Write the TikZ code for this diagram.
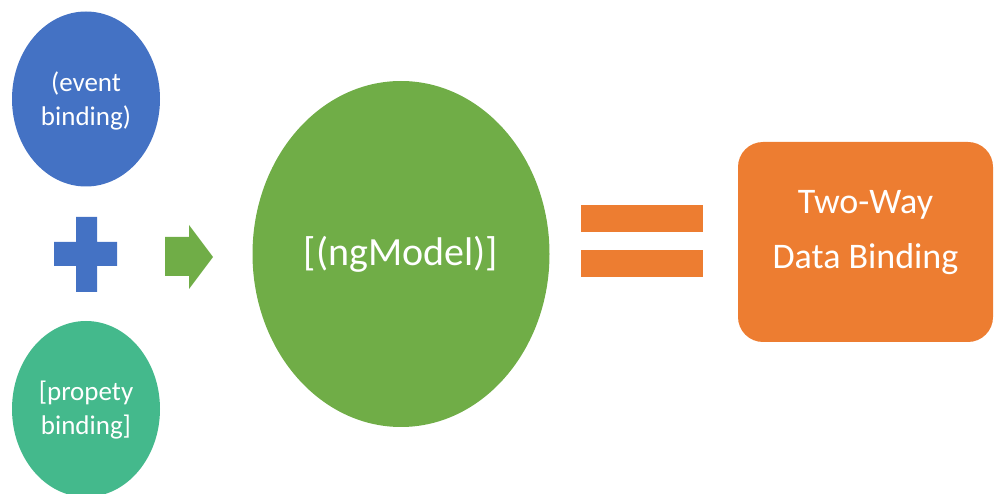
\documentclass[tikz,border=0pt]{standalone}
\usepackage{fontspec}
\setmainfont{Carlito}
\usetikzlibrary{shapes.geometric}
\definecolor{cblue}{RGB}{68,114,196}
\definecolor{cgreen}{RGB}{112,173,71}
\definecolor{corange}{RGB}{237,125,49}
\definecolor{cteal}{RGB}{68,185,140}
\tikzset{
  blob/.style={ellipse, inner sep=0pt, text=white, align=center},
  lbl/.style={font=\fontsize{27}{34}\selectfont},
}
\begin{document}
\begin{tikzpicture}[x=1pt,y=-1pt]
\useasboundingbox (0,0) rectangle (994,494);
\clip (0,0) rectangle (994,494);
\node[blob, fill=cblue, minimum width=148pt, minimum height=175pt,
  label={[lbl, text=white, align=center, yshift=-2pt]center:(event\\binding)}] (event) at (86,99) {};
\node[blob, fill=cteal, minimum width=148pt, minimum height=176pt,
  label={[lbl, text=white, align=center, yshift=-1pt]center:[propety\\binding]}] (prop) at (86,409) {};
% plus
\fill[cblue] (76,217) -- (97,217) -- (97,242) -- (117,242) -- (117,266) -- (97,266) -- (97,292) -- (76,292) -- (76,266) -- (54,266) -- (54,242) -- (76,242) -- cycle;
% arrow
\fill[cgreen] (165,237) -- (189,237) -- (189,225) -- (213,257) -- (189,289) -- (189,276) -- (165,276) -- cycle;
\node[blob, fill=cgreen, minimum width=297pt, minimum height=346pt, font=\fontsize{40}{48}\selectfont] (ng) at (401,254) {[(ngModel)]};
% equals
\fill[corange] (581,205) rectangle (703,232);
\fill[corange] (581,250) rectangle (703,277);
\node[rectangle, rounded corners=25pt, fill=corange, minimum width=255pt, minimum height=200pt, inner sep=0pt,
  label={[text=white, align=center, font=\fontsize{36}{55}\selectfont, yshift=9pt]center:Two-Way\\Data Binding}] (twoway) at (865.5,242) {};
\end{tikzpicture}
\end{document}
